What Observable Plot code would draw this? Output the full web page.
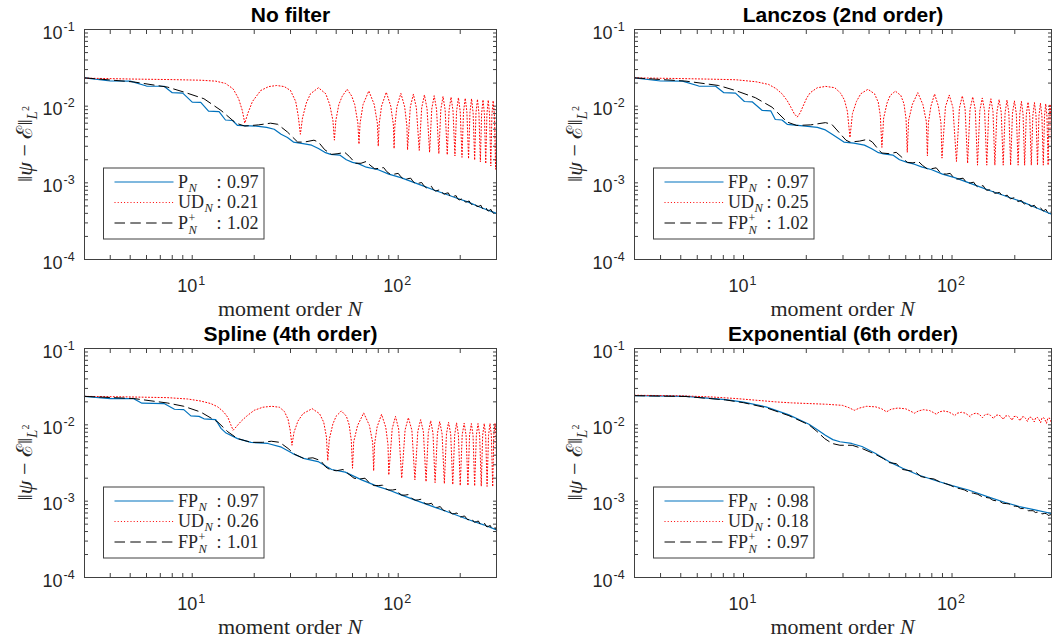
<!DOCTYPE html>
<html><head><meta charset="utf-8">
<script src="https://cdn.jsdelivr.net/npm/d3@7"></script>
<script src="https://cdn.jsdelivr.net/npm/@observablehq/plot@0.6"></script>
<style>
html,body{margin:0;padding:0;background:#fff;}
#root{position:relative;width:1054px;height:644px;overflow:hidden;background:#fff;}
.panel{position:absolute;}
.panel svg{display:block;overflow:visible;}
</style></head>
<body><div id="root"></div>
<script>
// ---------------- axis ticks & labels ----------------
const xTickValues = [3,4,5,6,7,8,9,10,20,30,40,50,60,70,80,90,100,200,300];
const yTickValues = [1e-4,2e-4,3e-4,4e-4,5e-4,6e-4,7e-4,8e-4,9e-4,1e-3,2e-3,3e-3,4e-3,5e-3,6e-3,7e-3,8e-3,9e-3,1e-2,2e-2,3e-2,4e-2,5e-2,6e-2,7e-2,8e-2,9e-2,1e-1];
const xLabelTicks = [10, 100];
const xLabelExponents = ["1", "2"];
const yLabelTicks = [1e-1, 1e-2, 1e-3, 1e-4];
const yLabelExponents = ["-1", "-2", "-3", "-4"];
const panelTitles = ["No filter", "Lanczos (2nd order)", "Spline (4th order)", "Exponential (6th order)"];
const legendNames = [["P","UD","P"], ["FP","UD","FP"], ["FP","UD","FP"], ["FP","UD","FP"]];
const legendRates = [["0.97","0.21","1.02"], ["0.97","0.25","1.02"], ["0.97","0.26","1.01"], ["0.98","0.18","0.97"]];

// ---------------- Panel A: No filter ----------------
const blueA = [[3,0.0234],[4,0.0213],[5,0.0212],[6,0.0183],[7.3,0.0182],[8,0.0150],[9,0.0148],[10,0.0113],[11,0.0112],[12,0.0086],[13.5,0.0085],[14.5,0.0066],[15.7,0.0065],[16.6,0.0056],[20.5,0.0055],[23,0.0053],[25,0.0050],[27,0.0043],[29,0.0039],[31,0.0034],[34.5,0.00325],[38,0.0031],[41,0.0028],[44,0.0025],[47,0.00235],[52,0.0023],[56,0.0020],[60,0.00185],[64,0.00178],[70,0.0016],[80,0.00148],[90,0.0013],[103,0.00117],[118,0.00102],[134,0.0009],[150,0.0008],[168,0.00072],[190,0.00064],[219,0.00056],[250,0.00048],[300,0.0004]];
const redA = [[3,0.0232],[5,0.0226],[8,0.0222],[11,0.0218],[13,0.0212],[14.5,0.0198],[15.8,0.0168],[16.8,0.0125],[17.5,0.0088],[18,0.0060],
[18.6,0.0080],[19.6,0.0115],[21.5,0.0160],[23.5,0.0180],[25.7,0.0186],[28,0.0180],[30,0.0160],[31.8,0.0115],[32.7,0.0075],[33.5,0.0043],
[34.3,0.0070],[35.8,0.0110],[37.5,0.0145],[41,0.0174],[44.5,0.0145],[46.5,0.0105],[48.2,0.0065],[49,0.0036],
[49.8,0.0065],[51.5,0.0105],[53.5,0.0135],[56.5,0.0166],[59.5,0.0135],[61.5,0.0105],[63.7,0.0060],[64.5,0.0032],
[65.3,0.0060],[67.5,0.0105],[72,0.0158],[76.5,0.0105],[79.2,0.0060],[80,0.0030],
[80.8,0.0058],[83,0.0100],[87.5,0.0152],[92,0.0100],[94.7,0.0058],[95.5,0.0028],
[96.3,0.0055],[98.5,0.0098],[103,0.0147],[107.5,0.0098],[110.2,0.0055],[111,0.0027],
[114.5,0.0098],[118.5,0.0143],[122.5,0.0095],[126.5,0.00265],
[130,0.0095],[134,0.0140],[138,0.0093],[142,0.0025],
[145.5,0.0092],[149.5,0.0137],[153.5,0.0091],[157.5,0.0024],
[161,0.0090],[165,0.0134],[169,0.0089],[173,0.00232],
[176.5,0.0088],[180.5,0.0131],[184.5,0.0087],[188.5,0.00224],
[192,0.0086],[196,0.0129],[200,0.0085],[204,0.00215],
[207.5,0.0085],[211.5,0.0127],[215.5,0.0084],[219.5,0.00206],
[223,0.0083],[227,0.0125],[231,0.0082],[235,0.00198],
[238.5,0.0082],[242.5,0.0123],[246.5,0.0081],[250.5,0.00188],
[254,0.0080],[258,0.0121],[262,0.0080],[266,0.00178],
[269.5,0.0079],[273.5,0.0120],[277.5,0.0079],[281.5,0.00166],
[285,0.0078],[289,0.0118],[293,0.0078],[297,0.0015],[300,0.0075]];
const blackA = [[3,0.0234],[5.2,0.0207],[7.6,0.0177],[9.1,0.0153],[11.4,0.0125],[13.8,0.0088],[16.3,0.0060],[18,0.0055],[21,0.0057],[24,0.0060],[26,0.0058],[29,0.0046],[32.5,0.0034],[35,0.0034],[39,0.0036],[41,0.0034],[44,0.0027],[47.5,0.00235],[51,0.0024],[55,0.0025],[58,0.0022],[62,0.0018],[66,0.0018],[70,0.0019],[73,0.0017],[77,0.00152],[81,0.00155],[85,0.00158],[88,0.0014],[92,0.00128],[96,0.0013],[100,0.00133],[103,0.0012],[107,0.0011],[111,0.00113],[115,0.00115],[118,0.00104],[122,0.00097],[126,0.00099],[130,0.00101],[133,0.00092],[137,0.00086],[141,0.00088],[145,0.0009],[148,0.00082],[152,0.00078],[156,0.0008],[160,0.00081],[163,0.00075],[167,0.00071],[171,0.00073],[175,0.00074],[178,0.00068],[183,0.00065],[187,0.00067],[191,0.00068],[194,0.00062],[198,0.0006],[202,0.00061],[206,0.00063],[209,0.00058],[213,0.00056],[217,0.00057],[221,0.00058],[224,0.00054],[228,0.00052],[232,0.00053],[236,0.00054],[239,0.0005],[244,0.00049],[248,0.0005],[252,0.00051],[255,0.00047],[259,0.00046],[263,0.00047],[267,0.00048],[270,0.00044],[274,0.00043],[278,0.00044],[282,0.00045],[285,0.00042],[289,0.00041],[293,0.00042],[297,0.00043],[300,0.00041]];

// ---------------- Panel B: Lanczos ----------------
const blueB = [[3,0.0234],[4,0.0213],[5.1,0.0212],[6.1,0.0183],[7.35,0.0182],[8.05,0.0150],[9.15,0.0148],[10.1,0.0115],[11,0.0114],[12.3,0.0088],[13.5,0.0087],[14.2,0.0067],[15.3,0.0066],[16.2,0.0058],[19.8,0.0055],[22.6,0.0053],[24.7,0.0049],[26.6,0.0043],[28.1,0.0039],[30.3,0.0034],[33.8,0.0033],[38,0.0031],[41,0.0028],[44,0.0025],[47,0.00238],[52,0.0023],[56,0.0020],[61,0.00185],[66,0.00175],[72,0.0016],[80,0.00148],[90,0.0013],[103,0.00117],[118,0.00102],[134,0.0009],[150,0.0008],[168,0.00072],[190,0.00064],[219,0.00056],[250,0.00048],[300,0.00039]];
const redB = [[3,0.0234],[5,0.0229],[7,0.0225],[9.2,0.0221],[11.5,0.0208],[13.2,0.0192],[14.3,0.0170],[15.3,0.0145],[16.2,0.0118],[16.9,0.0096],[17.5,0.0080],[18.1,0.0072],[18.7,0.0082],[19.3,0.0100],[20.1,0.0128],[20.9,0.0150],[22.6,0.0174],[24.8,0.0181],[27.4,0.0174],[29.2,0.0148],[30.5,0.0120],[31.5,0.0085],[32.4,0.0039],
[33.3,0.0080],[34.8,0.0115],[36.5,0.0145],[39.5,0.0166],[42.5,0.0145],[44.3,0.0112],[45.3,0.0075],[46.1,0.0029],
[47,0.0070],[48.8,0.0110],[50.5,0.0138],[53.5,0.0157],[56.8,0.0138],[58.8,0.0108],[60.2,0.0068],[61,0.0025],
[61.9,0.0065],[64.5,0.0105],[68.5,0.0150],[72.5,0.0105],[75.3,0.0063],[76.2,0.00225],
[77,0.0060],[79.2,0.0100],[82.5,0.0144],[86,0.0100],[88.5,0.0060],[89.5,0.0021],
[93,0.0098],[97,0.0140],[101,0.0096],[105,0.0019],
[108.5,0.0094],[112,0.0136],[115.5,0.0093],[118.8,0.0018],
[122,0.0091],[125.7,0.0132],[129.3,0.0090],[132.5,0.0017],
[136,0.0088],[139.7,0.0128],[143.3,0.0087],[146.8,0.0017],
[150,0.0086],[153.6,0.0125],[157.2,0.0085],[160.5,0.0017],
[164.2,0.0084],[168.2,0.0122],[172.2,0.0083],[176,0.0017],
[179.7,0.0082],[183.5,0.0120],[187.3,0.0082],[191,0.0017],
[195,0.0081],[199.2,0.0117],[203.4,0.0080],[207.5,0.0017],
[211.4,0.0079],[215.2,0.0115],[219.1,0.0079],[223,0.0017],
[227.2,0.0078],[231.5,0.0113],[235.8,0.0077],[240,0.0017],
[244.2,0.0076],[248.5,0.0111],[252.8,0.0076],[257,0.0017],
[261.2,0.0075],[265.5,0.0109],[269.8,0.0075],[274,0.0017],
[277.7,0.0074],[281.5,0.0107],[285.3,0.0074],[289,0.0017],
[292,0.0073],[295,0.0106],[298,0.0073],[300,0.0030]];
const blackB = [[3,0.0234],[5.3,0.0212],[7.6,0.0186],[9.15,0.0160],[11.4,0.0129],[13.7,0.0097],[16.2,0.0062],[18,0.0056],[21,0.0057],[24.7,0.0061],[26.5,0.0058],[28.6,0.0046],[31,0.0036],[32.4,0.0034],[36,0.0035],[39.5,0.0037],[41.5,0.0034],[44,0.0028],[46,0.00245],[50,0.0024],[54,0.0025],[57,0.0022],[61,0.00185],[65,0.00182],[69,0.0019],[72,0.0017],[76,0.00152],[80,0.00153],[84,0.00157],[87,0.0014],[89.5,0.00131],[94,0.0013],[98,0.00133],[101,0.0012],[105,0.00112],[109,0.00113],[113,0.00115],[116,0.00105],[118.8,0.00099],[123,0.001],[127,0.00102],[130,0.00093],[132.5,0.00089],[137,0.0009],[141,0.00092],[144,0.00084],[146.8,0.0008],[151,0.00081],[155,0.00083],[158,0.00076],[160.5,0.00073],[165,0.00074],[169,0.00075],[173,0.00069],[176,0.00067],[180,0.00068],[184,0.00069],[188,0.00064],[191,0.00062],[195,0.00063],[199,0.00064],[204,0.00059],[207.5,0.00057],[211,0.00058],[215,0.00059],[220,0.00054],[223,0.00053],[227,0.00054],[231,0.00055],[237,0.0005],[240,0.00049],[244,0.0005],[248,0.00051],[254,0.00047],[257,0.00046],[261,0.00047],[265,0.00048],[271,0.00044],[274,0.00043],[278,0.00044],[282,0.00045],[286,0.00042],[289,0.00041],[293,0.00042],[297,0.00043],[300,0.0004]];

// ---------------- Panel C: Spline ----------------
const blueC = [[3,0.0236],[4,0.0221],[5.2,0.0220],[5.7,0.0192],[7.3,0.0190],[8.2,0.0160],[9.1,0.0158],[9.85,0.0131],[10.8,0.0129],[11.4,0.0120],[13,0.0117],[13.8,0.0090],[14.6,0.0078],[16.6,0.0066],[19.3,0.0059],[23.3,0.0057],[27.1,0.0051],[30.8,0.0042],[35.1,0.0036],[40.8,0.0033],[47.5,0.0026],[55.3,0.0024],[66.4,0.0019],[80,0.00155],[90,0.0014],[104,0.0012],[120,0.00104],[151,0.00083],[180,0.0007],[220,0.00057],[260,0.00049],[300,0.00042]];
const redC = [[3,0.0236],[5,0.0232],[7.6,0.0227],[9.5,0.0218],[11,0.0205],[12.3,0.0190],[13.3,0.0172],[14.2,0.0148],[14.9,0.0125],[15.4,0.0100],[15.8,0.0085],[16.4,0.0095],[17.3,0.0112],[18.5,0.0132],[20,0.0155],[22,0.0170],[24.3,0.0175],[26.5,0.0170],[28,0.0150],[29.2,0.0118],[29.9,0.0085],[30.5,0.0054],
[31.2,0.0080],[32.6,0.0112],[34.5,0.0140],[38.2,0.0163],[41.5,0.0140],[43.5,0.0108],[44.8,0.0070],[45.5,0.0034],
[46.3,0.0065],[48.2,0.0103],[50,0.0130],[53,0.0152],[56,0.0130],[57.8,0.0100],[59.2,0.0062],[60,0.0027],
[60.8,0.0060],[63.5,0.0098],[68,0.0143],[72.5,0.0098],[75.2,0.0058],[76,0.0025],
[76.8,0.0056],[79,0.0094],[83,0.0137],[87,0.0093],[89.2,0.0055],[90,0.0022],
[93.5,0.0089],[97,0.0129],[100.5,0.0088],[104,0.0020],
[108,0.0086],[112,0.0124],[116.5,0.0085],[120.5,0.0019],
[124.5,0.0082],[128.5,0.0117],[132.5,0.0081],[136.5,0.0018],
[140,0.0079],[143.8,0.0113],[147.5,0.0078],[151,0.00175],
[155,0.0077],[159,0.0110],[163.3,0.0076],[167.5,0.0017],
[171.5,0.0076],[175.5,0.0108],[179.8,0.0075],[184,0.00165],
[188,0.0074],[192,0.0106],[196,0.0074],[200,0.0016],
[204.5,0.0074],[209,0.0105],[213.5,0.0073],[218,0.0016],
[222,0.0073],[226.5,0.0104],[230.8,0.0073],[235,0.00158],
[239.5,0.0073],[244,0.0104],[248.5,0.0073],[253,0.00157],
[257,0.0073],[261.5,0.0104],[265.8,0.0073],[270,0.00156],
[274.5,0.0073],[279,0.0104],[283.2,0.0073],[287.5,0.00155],
[291,0.0073],[295,0.0104],[298.5,0.0073],[300,0.0030]];
const blackC = [[3,0.0236],[5.2,0.0221],[7.6,0.0193],[9.1,0.0175],[11,0.0147],[13.3,0.0109],[14.9,0.0081],[16.6,0.0066],[19.3,0.0059],[22,0.0059],[24.2,0.0061],[26.6,0.0059],[29.2,0.0049],[31.5,0.0041],[35,0.0036],[38.5,0.0037],[42,0.0034],[44.5,0.0028],[46.5,0.0026],[50,0.0025],[54,0.0026],[57,0.0023],[61,0.002],[65,0.00195],[69,0.002],[73,0.0017],[76.5,0.0016],[80,0.0016],[84,0.00162],[87,0.00145],[90,0.0014],[94,0.0014],[98,0.00143],[101,0.00127],[104,0.0012],[108,0.0012],[112,0.00122],[117,0.00108],[121,0.00103],[125,0.00104],[129,0.00106],[133,0.00096],[136.5,0.00092],[141,0.00092],[145,0.00094],[148,0.00087],[151,0.00083],[155,0.00083],[160,0.00085],[164,0.00078],[167,0.00075],[172,0.00076],[176,0.00077],[180,0.0007],[184,0.00068],[188,0.00069],[193,0.0007],[197,0.00064],[200,0.00062],[205,0.00063],[210,0.00064],[215,0.00059],[218,0.00057],[223,0.00058],[228,0.00059],[232,0.00054],[235,0.00053],[240,0.00054],[245,0.00055],[250,0.0005],[253,0.00049],[258,0.0005],[263,0.00051],[267,0.00047],[270,0.00046],[275,0.00047],[280,0.00048],[284,0.00044],[288,0.00043],[292,0.00044],[296,0.00045],[300,0.00042]];

// ---------------- Panel D: Exponential ----------------
const blueD = [[3,0.0241],[5.3,0.0236],[8.2,0.0214],[10,0.0198],[12.8,0.0172],[16.5,0.0135],[20.6,0.0102],[22.6,0.0086],[24.7,0.0073],[26.8,0.0064],[29,0.0060],[33,0.0057],[37,0.0052],[43,0.0042],[49.8,0.0033],[58,0.0027],[69,0.0022],[84,0.00185],[100,0.0016],[120,0.0014],[150,0.00113],[180,0.00096],[210,0.00085],[250,0.00077],[300,0.00069]];
const redD = [[3,0.0244],[5,0.0240],[7,0.0232],[9.2,0.0221],[12,0.0208],[14.2,0.0200],[17,0.0194],[20.6,0.0190],[25,0.0186],[29.8,0.0180],[32,0.0168],[34,0.0155],[36,0.0166],[39,0.0175],[43,0.0172],[46,0.0162],[48.5,0.0148],[51,0.0160],[55,0.0166],[60,0.0162],[63,0.0152],[66,0.0142],[69,0.0152],[73,0.0158],[78,0.0154],[81,0.0146],[84,0.0138],[87,0.0148],[91,0.0152],[96,0.0148],[100,0.014],[103,0.0132],[106,0.0142],[111,0.0146],[116,0.0142],[119,0.0135],[122,0.0128],[125,0.0138],[130,0.0142],[135,0.0138],[140,0.0124],[144,0.0136],[149,0.0138],[153,0.0133],[158,0.0121],[162,0.0133],[167,0.0135],[171,0.013],[176,0.0118],[180,0.013],[186,0.0132],[189,0.0127],[194,0.0115],[198,0.0128],[203,0.013],[207,0.0124],[212,0.0113],[216,0.0126],[221,0.0128],[225,0.0122],[230,0.0111],[234,0.0125],[239,0.0126],[243,0.012],[248,0.0109],[252,0.0124],[257,0.0125],[261,0.0118],[266,0.0107],[270,0.0123],[275,0.0124],[279,0.0117],[284,0.0105],[288,0.0122],[293,0.0123],[297,0.0115],[300,0.0104]];
const blackD = [[3,0.0241],[5.3,0.0235],[8.2,0.0212],[10,0.0195],[12.8,0.0168],[16.5,0.0132],[20.6,0.0100],[22.5,0.0082],[24.5,0.0066],[26.6,0.0057],[29,0.0054],[33.2,0.0054],[37,0.0049],[43,0.0041],[47,0.0036],[50,0.0032],[54,0.0031],[58,0.0026],[63,0.0025],[67,0.0024],[71,0.0021],[77,0.002],[82,0.00195],[87,0.0018],[93,0.0017],[98,0.00162],[104,0.0015],[110,0.00145],[115,0.0014],[121,0.0013],[127,0.00127],[133,0.00123],[139,0.00115],[145,0.00112],[151,0.0011],[157,0.00103],[163,0.00101],[169,0.001],[175,0.00094],[182,0.00093],[188,0.00092],[194,0.00086],[201,0.00086],[207,0.00085],[213,0.0008],[220,0.0008],[226,0.00079],[232,0.00075],[239,0.00075],[245,0.00075],[251,0.00071],[258,0.00072],[264,0.00071],[270,0.00068],[277,0.00069],[283,0.00069],[289,0.00065],[295,0.00066],[300,0.00067]];

// ---------------- layout ----------------
const AXC = "#404040";
const TXC = "#262626";
const panels = [
  {left:0,   top:0,   w:527, h:322, mL:84,  mR:31, mT:29, mB:63, blue:blueA, red:redA, black:blackA},
  {left:527, top:0,   w:527, h:322, mL:107, mR:3,  mT:29, mB:63, blue:blueB, red:redB, black:blackB},
  {left:0,   top:322, w:527, h:322, mL:84,  mR:31, mT:26, mB:67, blue:blueC, red:redC, black:blackC},
  {left:527, top:322, w:527, h:322, mL:107, mR:3,  mT:26, mB:67, blue:blueD, red:redD, black:blackD}
];

const root = document.getElementById("root");
const sans = "'Liberation Sans', Arial, Helvetica, sans-serif";
const serif = "'Liberation Serif', 'Times New Roman', 'DejaVu Serif', serif";

panels.forEach((p, i) => {
  const chart = Plot.plot({
    width: p.w, height: p.h,
    marginLeft: p.mL, marginRight: p.mR, marginTop: p.mT, marginBottom: p.mB,
    style: {background: "transparent", overflow: "visible"},
    x: {type: "log", domain: [3, 300]},
    y: {type: "log", domain: [1e-4, 1e-1]},
    marks: [
      Plot.axisX({anchor: "bottom", ticks: xTickValues, tickSize: 4, dy: -4, fill: "none", stroke: AXC, label: null}),
      Plot.axisX({anchor: "top", ticks: xTickValues, tickSize: 4, dy: 4, fill: "none", stroke: AXC, label: null}),
      Plot.axisY({anchor: "left", ticks: yTickValues, tickSize: 4, dx: 4, fill: "none", stroke: AXC, label: null}),
      Plot.axisY({anchor: "right", ticks: yTickValues, tickSize: 4, dx: -4, fill: "none", stroke: AXC, label: null}),
      Plot.text(xLabelTicks, {x: d => d, frameAnchor: "bottom", text: d => "10", textAnchor: "end", lineAnchor: "bottom", dx: 5, dy: 32, fontSize: 18, fontFamily: sans, fill: TXC}),
      Plot.text(xLabelTicks, {x: d => d, frameAnchor: "bottom", text: (d, j) => xLabelExponents[j], textAnchor: "start", lineAnchor: "bottom", dx: 6, dy: 25, fontSize: 12.5, fontFamily: sans, fill: TXC}),
      Plot.text(yLabelTicks, {y: d => d, frameAnchor: "left", text: d => "10", textAnchor: "end", lineAnchor: "bottom", dx: -22, dy: 9, fontSize: 18, fontFamily: sans, fill: TXC}),
      Plot.text(yLabelTicks, {y: d => d, frameAnchor: "left", text: (d, j) => yLabelExponents[j], textAnchor: "start", lineAnchor: "bottom", dx: -21, dy: 1, fontSize: 12.5, fontFamily: sans, fill: TXC}),
      Plot.text([panelTitles[i]], {frameAnchor: "top", text: d => d, lineAnchor: "bottom", dy: -7.5, fontSize: 21, fontWeight: "bold", fontFamily: sans, fill: "#000"}),
      Plot.line(p.blue, {x: d => d[0], y: d => d[1], stroke: "#0072BD", strokeWidth: 1.2}),
      Plot.line(p.red, {x: d => d[0], y: d => d[1], stroke: "#FF0000", strokeWidth: 1, strokeDasharray: "1,2.2"}),
      Plot.line(p.black, {x: d => d[0], y: d => d[1], stroke: "#000", strokeWidth: 1, strokeDasharray: "10,5"}),
      Plot.frame({stroke: AXC, strokeWidth: 1})
    ]
  });
  const div = document.createElement("div");
  div.className = "panel";
  div.style.left = p.left + "px";
  div.style.top = p.top + "px";
  div.style.width = p.w + "px";
  div.style.height = p.h + "px";
  div.appendChild(chart);
  root.appendChild(div);

  const svg = d3.select(chart);
  const fl = p.mL, fr = p.w - p.mR, ft = p.mT, fb = p.h - p.mB;

  // x label
  const xl = svg.append("text")
    .attr("x", (fl + fr) / 2).attr("y", fb + 57)
    .attr("text-anchor", "middle")
    .attr("font-family", serif).attr("font-size", 22).attr("fill", TXC);
  xl.append("tspan").text("moment order ");
  xl.append("tspan").attr("font-style", "italic").text("N");

  // y label
  const yl = svg.append("text")
    .attr("transform", `translate(${fl - 52},${(ft + fb) / 2}) rotate(-90)`)
    .attr("text-anchor", "middle")
    .attr("font-family", serif).attr("font-size", 22).attr("fill", TXC);
  yl.append("tspan").text("\u2016");
  yl.append("tspan").attr("font-style", "italic").text("\u03C8");
  yl.append("tspan").text(" \u2212 \u2130\u2016");
  yl.append("tspan").attr("font-style", "italic").attr("font-size", 15).attr("dy", 5).text("L");
  yl.append("tspan").attr("font-size", 10).attr("dy", -8).text("2");

  // legend
  const lx = fl + 19.5, ly = ft + 139;
  const g = svg.append("g").attr("transform", `translate(${lx},${ly})`).attr("text-anchor", "start");
  g.append("rect").attr("x", 0).attr("y", 0).attr("width", 160.5).attr("height", 71)
    .attr("fill", "#fff").attr("stroke", AXC).attr("stroke-width", 1);
  const styles = [
    {stroke: "#0072BD", w: 1.2, dash: null},
    {stroke: "#FF0000", w: 1, dash: "1,2.2"},
    {stroke: "#000", w: 1, dash: "10.5,5.3"}
  ];
  const rows = [19.5, 40, 60.5];
  rows.forEach((b, k) => {
    const ln = g.append("line").attr("x1", 11).attr("x2", 70).attr("y1", b - 5.5).attr("y2", b - 5.5)
      .attr("stroke", styles[k].stroke).attr("stroke-width", styles[k].w);
    if (styles[k].dash) ln.attr("stroke-dasharray", styles[k].dash);
    const t = g.append("text").attr("x", 74.5).attr("y", b).attr("text-anchor", "start")
      .attr("font-family", serif).attr("font-size", 18).attr("fill", TXC).text(legendNames[i][k]);
    const w = t.node().getComputedTextLength();
    if (k === 2) {
      g.append("text").attr("x", 74.5 + w + 0.5).attr("y", b - 7).attr("text-anchor", "start")
        .attr("font-family", serif).attr("font-size", 12).attr("fill", TXC).text("+");
    }
    g.append("text").attr("x", 74.5 + w + 0.5).attr("y", b + (k === 2 ? 5 : 4)).attr("text-anchor", "start")
      .attr("font-family", serif).attr("font-size", 12.5).attr("font-style", "italic").attr("fill", TXC).text("N");
    g.append("text").attr("x", 113).attr("y", b).attr("text-anchor", "start")
      .attr("font-family", serif).attr("font-size", 18).attr("fill", TXC).text(":");
    g.append("text").attr("x", 123.5).attr("y", b).attr("text-anchor", "start")
      .attr("font-family", serif).attr("font-size", 18).attr("fill", TXC).text(legendRates[i][k]);
  });
});
</script>
</body></html>
